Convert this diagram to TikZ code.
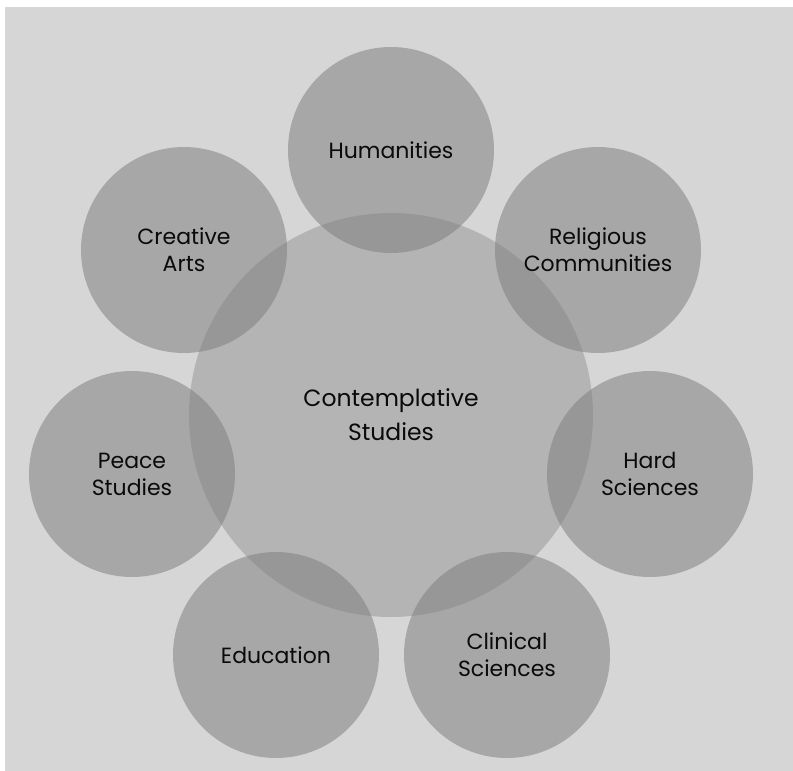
\documentclass[tikz,border=0pt]{standalone}
\usepackage{fontspec}
\setmainfont{Poppins}
\definecolor{bggray}{RGB}{214,214,214}
\definecolor{circfill}{RGB}{128,128,128}
\definecolor{txt}{RGB}{10,10,10}
\begin{document}
\begin{tikzpicture}[x=1pt,y=-1pt,
  small/.style={circle,minimum size=206pt,inner sep=0pt,fill=circfill,fill opacity=0.54,text opacity=1,text=txt,align=center,font=\fontsize{22}{27}\selectfont},
  big/.style={circle,minimum size=404pt,inner sep=0pt,fill=circfill,fill opacity=0.39,text opacity=1,text=txt,align=center,font=\fontsize{23.5}{34}\selectfont}]
\fill[white] (0,0) rectangle (793,771);
\fill[bggray] (5,7) rectangle (793,771);
\useasboundingbox (0,0) rectangle (793,771);
\node[big] (center) at (391,415) {Contemplative\\Studies};
\node[small] (hum) at (391,150) {Humanities};
\node[small] (rel) at (598,250) {Religious\\Communities};
\node[small] (hard) at (650,474) {Hard\\Sciences};
\node[small] (clin) at (507,655) {Clinical\\Sciences};
\node[small] (edu) at (276,655) {Education};
\node[small] (peace) at (132,474) {Peace\\Studies};
\node[small] (art) at (184,250) {Creative\\Arts};
\end{tikzpicture}
\end{document}
